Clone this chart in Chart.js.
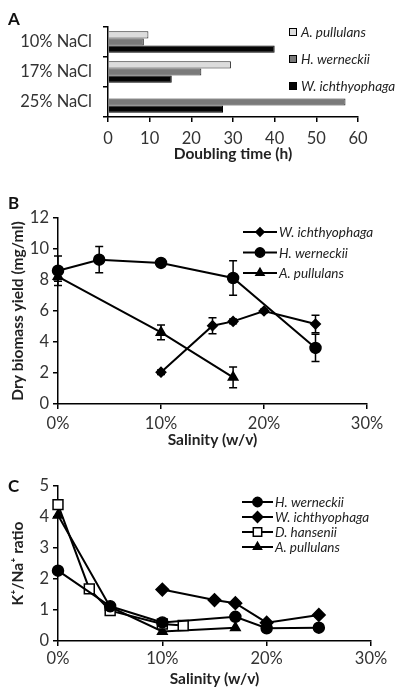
<!DOCTYPE html>
<html>
<head>
<meta charset="utf-8">
<script src="https://cdn.jsdelivr.net/npm/chart.js@4.4.0/dist/chart.umd.min.js"></script>
<style>
body { margin: 0; background: #fff; width: 396px; height: 689px; position: relative; overflow: hidden; font-family: Lato, sans-serif; }
canvas { position: absolute; left: 0; }
.tag { position: absolute; font: bold 17px Lato, sans-serif; color: #111; line-height: 17px; }
</style>
</head>
<body>
<canvas id="chartA" width="396" height="170" style="top:0"></canvas>
<canvas id="chartB" width="396" height="280" style="top:170px"></canvas>
<canvas id="chartC" width="396" height="239" style="top:450px"></canvas>
<div class="tag" style="left:8px;top:10px">A</div>
<div class="tag" style="left:8px;top:194px">B</div>
<div class="tag" style="left:8px;top:477px">C</div>
<script>
// panel A - doubling time (h)
const naclLevels = ['10% NaCl', '17% NaCl', '25% NaCl'];
const doublingAp = [9.7, 29.5, null];
const doublingHw = [8.6, 22.4, 57];
const doublingWi = [40, 15.3, 27.6];

// panel B - dry biomass yield (mg/ml)
const bSalinityWi = [10, 15, 17, 20, 25];
const bYieldWi = [2.05, 5.05, 5.33, 6.0, 5.16];
const bErrWi = [0.15, 0.52, 0.15, 0.12, 0.57];
const bSalinityHw = [0, 4, 10, 17, 25];
const bYieldHw = [8.6, 9.31, 9.1, 8.13, 3.62];
const bErrHw = [0.95, 0.85, 0.15, 1.12, 0.88];
const bSalinityAp = [0, 10, 17];
const bYieldAp = [8.22, 4.62, 1.72];
const bErrAp = [0.3, 0.47, 0.67];

// panel C - K+/Na+ ratio
const cSalinityHw = [0, 5, 10, 17, 20, 25];
const cRatioHw = [2.27, 1.12, 0.6, 0.78, 0.41, 0.43];
const cSalinityWi = [10, 15, 17, 20, 25];
const cRatioWi = [1.66, 1.32, 1.22, 0.59, 0.84];
const cSalinityDh = [0, 3, 5, 10, 12];
const cRatioDh = [4.4, 1.68, 0.98, 0.55, 0.5];
const cSalinityAp = [0, 5, 10, 17];
const cRatioAp = [4.06, 1.1, 0.31, 0.43];

const salinityTicks = [0, 10, 20, 30];

const tickFont = { family: 'Lato', size: 16.5 };
const titleFont = { family: 'Lato', size: 15.5, weight: 'bold' };
const legendFont = 'italic 13.5px Lato';

function xy(xs, ys) {
    return xs.map((x, i) => ({ x: x, y: ys[i] }));
}

// error bars read from dataset.errors
const errorBars = {
    id: 'errorBars',
    beforeDatasetsDraw(chart) {
        const ctx = chart.ctx;
        const xScale = chart.scales.x;
        const yScale = chart.scales.y;
        ctx.save();
        ctx.strokeStyle = '#000';
        ctx.lineWidth = 1.5;
        chart.data.datasets.forEach(ds => {
            if (!ds.errors) return;
            ds.data.forEach((p, j) => {
                const e = ds.errors[j];
                const x = xScale.getPixelForValue(p.x);
                const top = yScale.getPixelForValue(p.y + e);
                const bot = yScale.getPixelForValue(p.y - e);
                ctx.beginPath();
                ctx.moveTo(x, top); ctx.lineTo(x, bot);
                ctx.moveTo(x - 4, top); ctx.lineTo(x + 4, top);
                ctx.moveTo(x - 4, bot); ctx.lineTo(x + 4, bot);
                ctx.stroke();
            });
        });
        ctx.restore();
    }
};

// legend drawn at fixed place inside the plot
const sideLegend = {
    id: 'sideLegend',
    afterDraw(chart, args, opts) {
        const ctx = chart.ctx;
        ctx.save();
        ctx.font = legendFont;
        ctx.textBaseline = 'middle';
        chart.data.datasets.forEach((ds, i) => {
            const y = opts.y + i * opts.dy;
            if (opts.swatch) {
                ctx.fillStyle = ds.backgroundColor;
                ctx.strokeStyle = '#000';
                ctx.lineWidth = 1;
                ctx.fillRect(opts.x, y - 4, 8, 8);
                ctx.strokeRect(opts.x + 0.5, y - 3.5, 7, 7);
                ctx.fillStyle = '#222';
                ctx.fillText(ds.label, opts.x + 12, y + 1);
            } else {
                ctx.strokeStyle = '#000';
                ctx.lineWidth = 2;
                ctx.beginPath();
                ctx.moveTo(opts.x, y); ctx.lineTo(opts.x + opts.len, y);
                ctx.stroke();
                ctx.fillStyle = ds.pointBackgroundColor;
                ctx.lineWidth = 1.5;
                Chart.helpers.drawPoint(ctx, {
                    pointStyle: ds.pointStyle,
                    radius: ds.pointRadius * 0.85,
                    rotation: 0,
                    borderWidth: 1.5
                }, opts.x + opts.len / 2, y);
                ctx.fillStyle = '#222';
                ctx.fillText(ds.label, opts.x + opts.len + 2, y + 1);
            }
        });
        ctx.restore();
    }
};

function lineSet(label, data, style, radius, fill, errors) {
    return {
        label: label,
        data: data,
        errors: errors,
        showLine: true,
        borderColor: '#000',
        borderWidth: 2,
        pointStyle: style,
        pointRadius: radius,
        pointHoverRadius: radius,
        pointBackgroundColor: fill,
        pointBorderColor: '#000',
        pointBorderWidth: 1.5,
        tension: 0,
        clip: false
    };
}

function salinityAxis(height, tickPad, titlePad) {
    return {
        type: 'linear',
        min: 0, max: 30,
        afterBuildTicks: s => { s.ticks = salinityTicks.map(v => ({ value: v })); },
        ticks: { font: tickFont, color: '#333', padding: tickPad, callback: v => v + '%' },
        grid: { drawOnChartArea: false, tickLength: 5, color: '#000', lineWidth: 1.5 },
        border: { color: '#000', width: 1.5 },
        title: { display: true, text: 'Salinity (w/v)', font: titleFont, color: '#222', padding: { top: 0, bottom: titlePad } },
        afterFit: s => { s.height = height; }
    };
}

function valueAxis(max, step, title) {
    return {
        min: 0, max: max,
        ticks: { stepSize: step, font: tickFont, color: '#333', padding: 4 },
        grid: { drawOnChartArea: false, tickLength: 5, color: '#000', lineWidth: 1.5 },
        border: { color: '#000', width: 1.5 },
        title: { display: true, text: title, font: titleFont, color: '#222', padding: { top: 9, bottom: 0 } },
        afterFit: s => { s.width = 58; }
    };
}

new Chart(document.getElementById('chartA'), {
    type: 'bar',
    data: {
        labels: naclLevels,
        datasets: [
            { label: 'A. pullulans', data: doublingAp, backgroundColor: '#dcdcdc', borderColor: '#222', borderWidth: 1 },
            { label: 'H. werneckii', data: doublingHw, backgroundColor: '#7a7a7a', borderColor: '#222', borderWidth: 1 },
            { label: 'W. ichthyophaga', data: doublingWi, backgroundColor: '#050505', borderColor: '#000', borderWidth: 1 }
        ]
    },
    options: {
        indexAxis: 'y',
        responsive: false,
        animation: false,
        layout: { padding: { top: 27, right: 38, left: 0, bottom: 0 } },
        datasets: { bar: { categoryPercentage: 0.72, barPercentage: 1 } },
        plugins: {
            legend: { display: false },
            tooltip: { enabled: false },
            sideLegend: { swatch: true, x: 289, y: 32, dy: 27 }
        },
        scales: {
            x: {
                min: 0, max: 60,
                ticks: { stepSize: 10, font: tickFont, color: '#333', padding: 7 },
                grid: { drawOnChartArea: false, tickLength: 5, color: '#000', lineWidth: 1.5 },
                border: { color: '#000', width: 1.5 },
                title: { display: true, text: 'Doubling time (h)', font: titleFont, color: '#222', padding: { top: 0, bottom: 7 } },
                afterFit: s => { s.height = 53; }
            },
            y: {
                ticks: { font: tickFont, color: '#333', padding: 11 },
                grid: { offset: true, drawOnChartArea: false, tickLength: 5, color: '#000', lineWidth: 1.5 },
                border: { color: '#000', width: 1.5 },
                afterFit: s => { s.width = 108; }
            }
        }
    },
    plugins: [sideLegend]
});

new Chart(document.getElementById('chartB'), {
    type: 'scatter',
    data: {
        datasets: [
            lineSet('W. ichthyophaga', xy(bSalinityWi, bYieldWi), 'rectRot', 4.8, '#000', bErrWi),
            lineSet('H. werneckii', xy(bSalinityHw, bYieldHw), 'circle', 5.5, '#000', bErrHw),
            lineSet('A. pullulans', xy(bSalinityAp, bYieldAp), 'triangle', 5.5, '#000', bErrAp)
        ]
    },
    options: {
        responsive: false,
        animation: false,
        layout: { padding: { top: 48, right: 29, left: 0, bottom: 0 } },
        plugins: {
            legend: { display: false },
            tooltip: { enabled: false },
            sideLegend: { x: 243, y: 62, dy: 20.5, len: 34 }
        },
        scales: {
            x: salinityAxis(46, 5, 1),
            y: valueAxis(12, 2, 'Dry biomass yield (mg/ml)')
        }
    },
    plugins: [errorBars, sideLegend]
});

new Chart(document.getElementById('chartC'), {
    type: 'scatter',
    data: {
        datasets: [
            lineSet('H. werneckii', xy(cSalinityHw, cRatioHw), 'circle', 5.5, '#000'),
            lineSet('W. ichthyophaga', xy(cSalinityWi, cRatioWi), 'rectRot', 6.3, '#000'),
            lineSet('D. hansenii', xy(cSalinityDh, cRatioDh), 'rect', 7, '#fff'),
            lineSet('A. pullulans', xy(cSalinityAp, cRatioAp), 'triangle', 5.5, '#000')
        ]
    },
    options: {
        responsive: false,
        animation: false,
        layout: { padding: { top: 36, right: 25, left: 0, bottom: 0 } },
        plugins: {
            legend: { display: false },
            tooltip: { enabled: false },
            sideLegend: { x: 242, y: 52, dy: 15, len: 31 }
        },
        scales: {
            x: salinityAxis(48, 3, 1),
            y: valueAxis(5, 1, 'K\u207A/Na\u207A ratio')
        }
    },
    plugins: [sideLegend]
});
</script>
</body>
</html>
